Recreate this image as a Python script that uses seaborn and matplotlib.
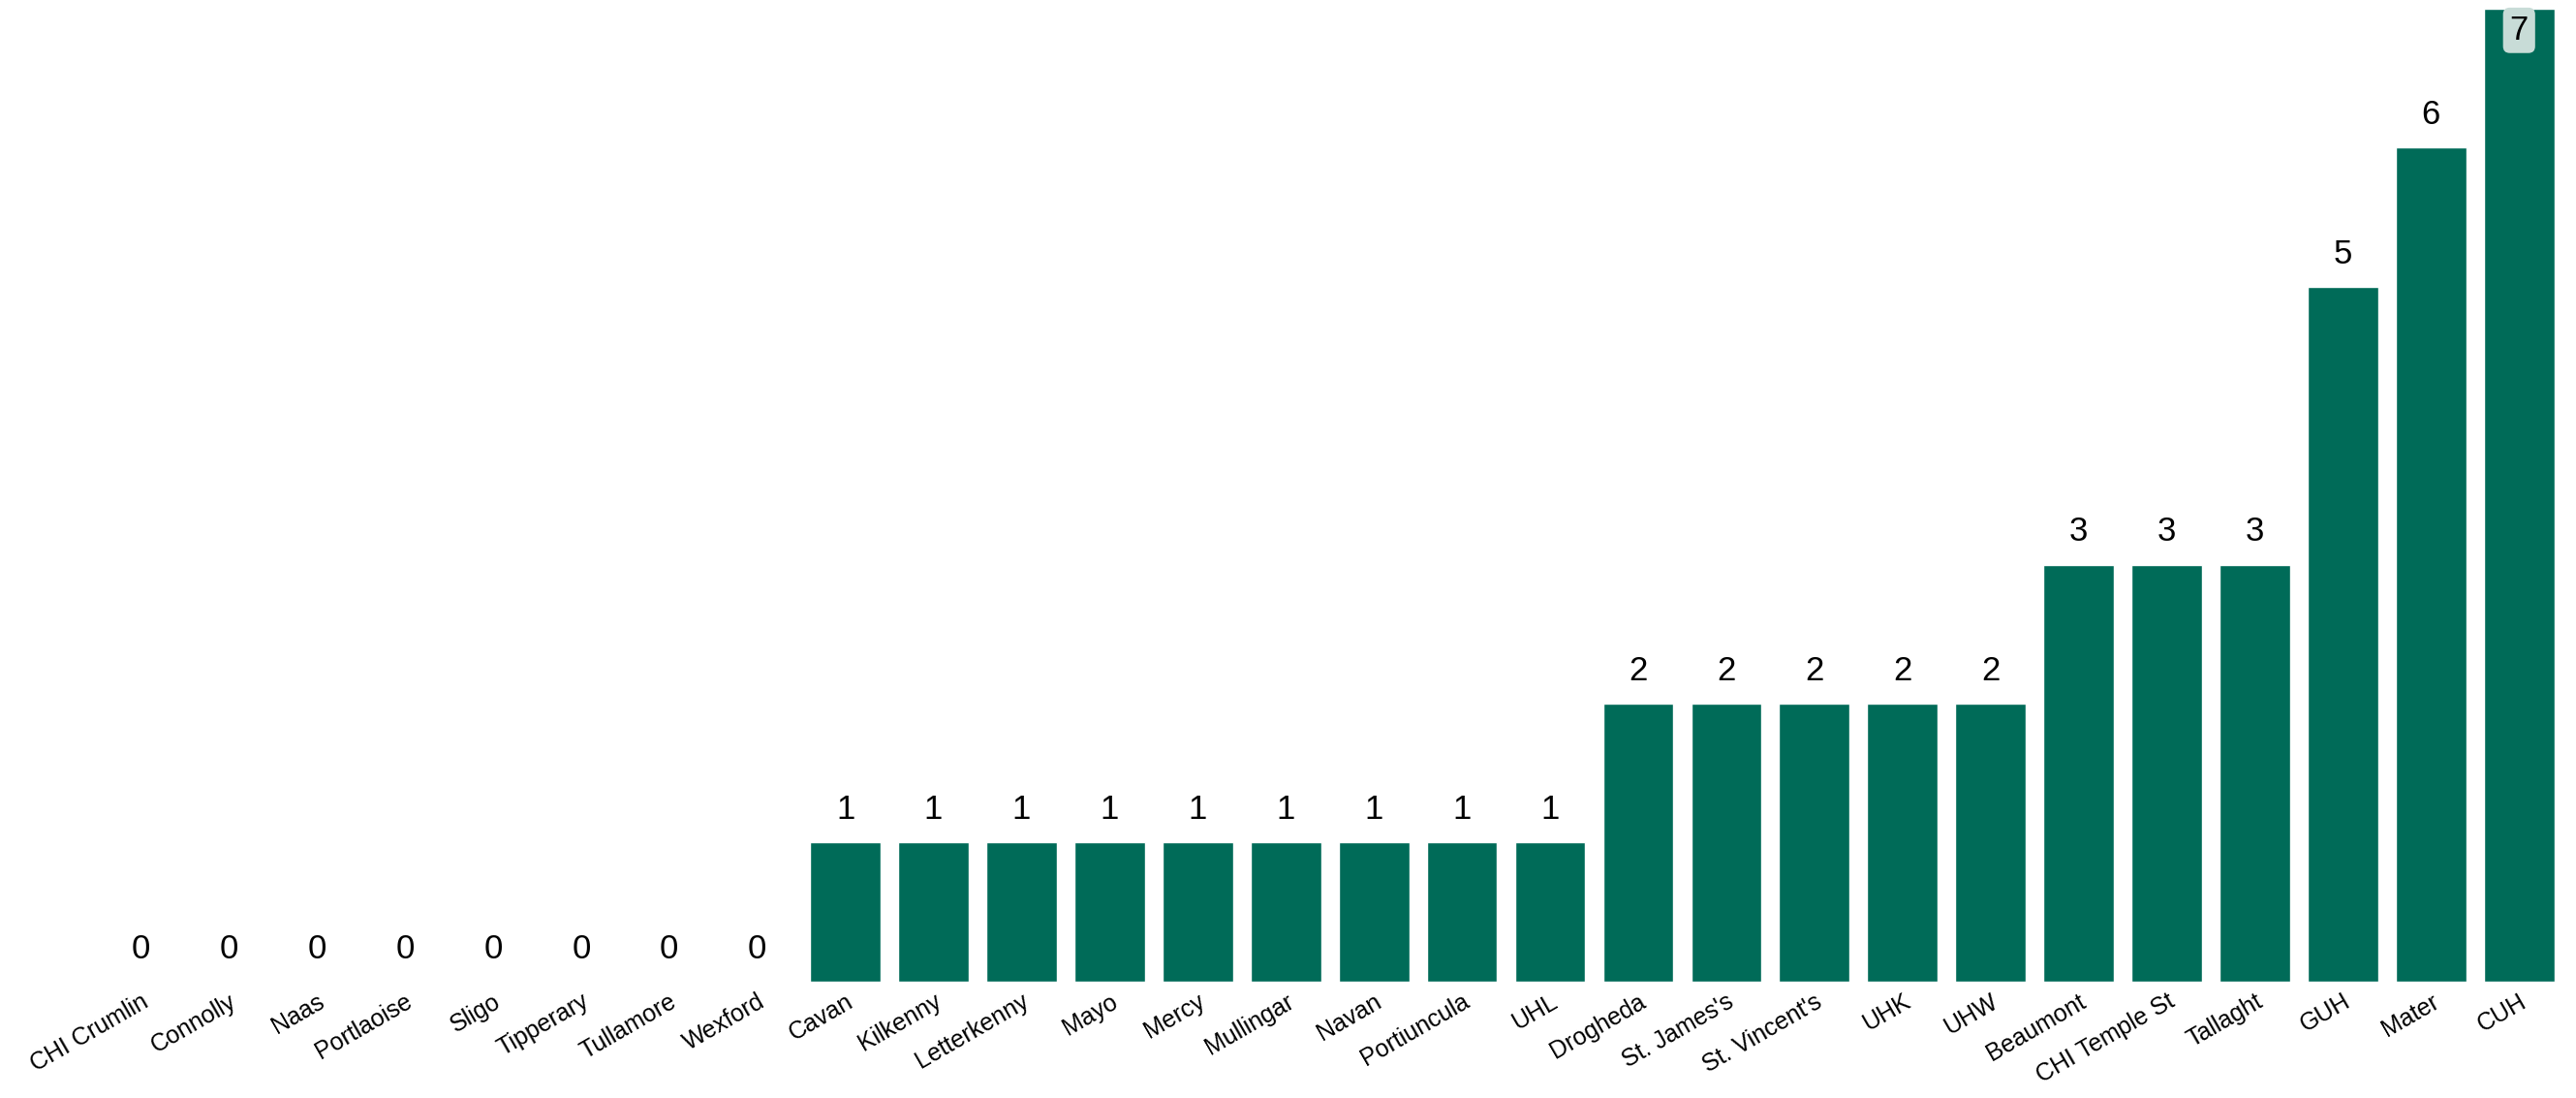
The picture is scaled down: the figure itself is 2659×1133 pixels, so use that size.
import matplotlib
matplotlib.use("Agg")
import matplotlib.pyplot as plt
import seaborn as sns
import pandas as pd

hospitals = ["CHI Crumlin", "Connolly", "Naas", "Portlaoise", "Sligo", "Tipperary", "Tullamore", "Wexford",
             "Cavan", "Kilkenny", "Letterkenny", "Mayo", "Mercy", "Mullingar", "Navan", "Portiuncula", "UHL",
             "Drogheda", "St. James's", "St. Vincent's", "UHK", "UHW",
             "Beaumont", "CHI Temple St", "Tallaght", "GUH", "Mater", "CUH"]
counts = [0, 0, 0, 0, 0, 0, 0, 0,
          1, 1, 1, 1, 1, 1, 1, 1, 1,
          2, 2, 2, 2, 2,
          3, 3, 3, 5, 6, 7]

df = pd.DataFrame({"hospital": hospitals, "count": counts})

sns.set_style("white")
plt.rcParams["font.family"] = ["Liberation Sans", "DejaVu Sans"]

fig = plt.figure(figsize=(26.59, 11.33), dpi=100)
ax = fig.add_axes([0.0375, 0.106, 0.9575, 0.886])
sns.barplot(data=df, x="hospital", y="count", color="#006B58", saturation=1, width=0.8, ax=ax)
ax.set_ylim(0, 7)
ax.set_xlim(-0.5, len(hospitals) - 0.5)

top = max(counts)
for i, c in enumerate(counts):
    if c == top:
        ax.text(i, c - 0.04, str(c), ha="center", va="top", fontsize=25, color="black",
                bbox=dict(boxstyle="round,pad=0.2", fc="#c8dcd7", ec="none"))
    else:
        ax.text(i, c + 0.12, str(c), ha="center", va="bottom", fontsize=25, color="black")

ax.set_xlabel("")
ax.set_ylabel("")
ax.set_yticks([])
ax.tick_params(axis="x", length=0, pad=6, labelcolor="black")
plt.setp(ax.get_xticklabels(), rotation=30, ha="right", rotation_mode="anchor", fontsize=18)
sns.despine(left=True, bottom=True)

fig.savefig("out.png", dpi=100)
